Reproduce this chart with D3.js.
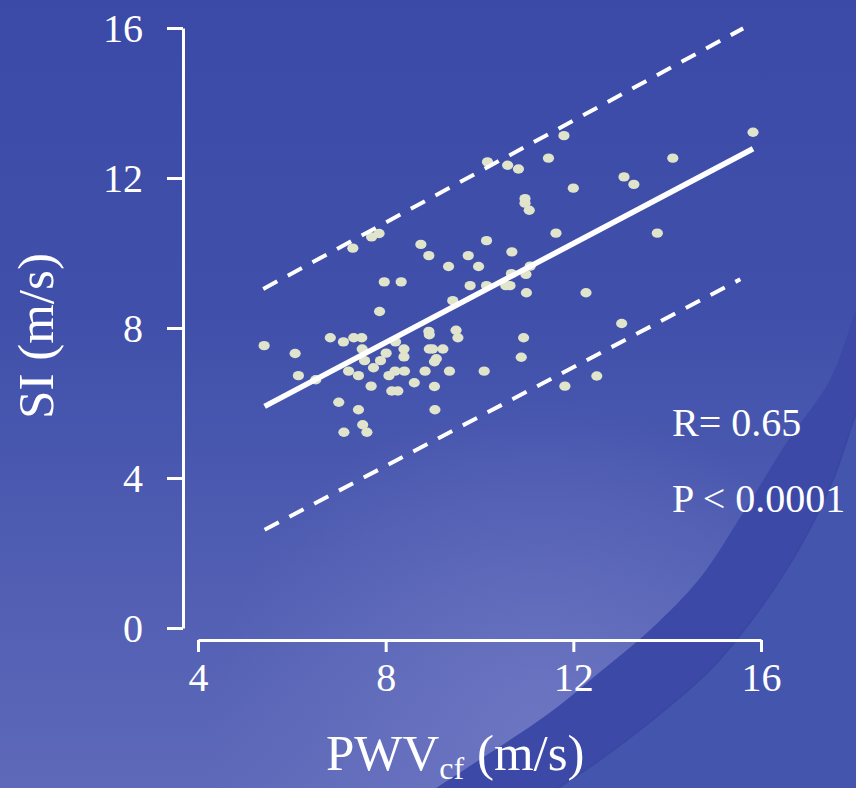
<!DOCTYPE html>
<html>

<head>
  <meta charset="utf-8">
  <title>SI vs PWVcf</title>
  <style>
    body { margin: 0; background: #3c4aa8; }
    svg { display: block; }
    text { font-family: "Liberation Serif", "DejaVu Serif", serif; fill: #fff; }
  </style>
</head>

<body>
  <svg width="856" height="788"></svg>
  <script src="https://d3js.org/d3.v7.min.js"></script>
  <script>
    // PWVcf (m/s)
    var pwv = [5.41, 6.07, 6.14, 6.51, 6.82, 7.10, 7.32, 7.49, 7.50, 7.55,
      7.21, 7.42, 7.74, 7.89, 8.01, 8.21, 8.39, 8.39, 8.07, 8.20,
      8.40, 7.69, 8.13, 8.26, 8.61, 7.00, 7.42, 7.51, 7.11, 7.60,
      7.87, 7.97, 8.33, 7.30, 7.70, 7.86, 8.75, 8.92, 8.92, 8.93,
      8.84, 8.93, 9.00, 9.22, 9.08, 9.04, 9.04, 9.05, 9.36, 9.50,
      9.54, 9.43, 9.34, 9.76, 9.80, 9.98, 10.15, 10.17, 10.15, 10.10,
      10.69, 10.56, 10.65, 10.68, 10.99, 11.08, 11.00, 10.94, 10.89, 10.60,
      10.83, 10.97, 10.97, 11.06, 11.47, 11.80, 11.63, 12.00, 12.27, 11.82,
      12.50, 13.03, 13.08, 13.29, 13.79, 14.12, 15.83];
    // SI (m/s)
    var si = [7.53, 7.32, 6.73, 6.62, 7.74, 7.63, 7.74, 7.74, 7.44, 7.13,
      6.85, 6.73, 6.94, 7.13, 7.33, 7.63, 7.44, 7.23, 6.73, 6.85,
      6.85, 6.45, 6.32, 6.32, 6.54, 6.02, 5.82, 5.42, 5.22, 5.22,
      8.44, 9.23, 9.23, 10.13, 10.43, 10.52, 10.23, 9.93, 7.91, 7.82,
      6.85, 7.44, 7.44, 7.44, 7.18, 7.10, 6.44, 5.82, 6.85, 7.94,
      7.74, 8.73, 9.64, 9.93, 9.13, 9.64, 10.33, 12.43, 9.13, 6.85,
      10.03, 9.13, 9.13, 9.45, 9.43, 9.65, 8.94, 7.74, 7.22, 12.34,
      12.24, 11.45, 11.33, 11.14, 12.53, 13.13, 10.53, 11.73, 8.94, 6.45,
      6.72, 8.12, 12.03, 11.83, 10.53, 12.53, 13.22];

    // regression line and 95% band end points (x, y)
    var fitX = [5.42, 15.83], fitY = [5.91, 12.78];
    var upperX = [5.39, 15.62], upperY = [9.04, 15.99];
    var lowerX = [5.42, 15.56], lowerY = [2.62, 9.30];

    var xTicks = [4, 8, 12, 16];
    var yTicks = [0, 4, 8, 12, 16];
    var statLines = ["R= 0.65", "P < 0.0001"];

    var svg = d3.select("svg");
    var defs = svg.append("defs");

    // background
    var bg = defs.append("linearGradient").attr("id", "bg")
      .attr("x1", 0).attr("y1", 0).attr("x2", 0).attr("y2", 1);
    bg.append("stop").attr("offset", "0").attr("stop-color", "#3b4aa7");
    bg.append("stop").attr("offset", "0.4").attr("stop-color", "#4050aa");
    bg.append("stop").attr("offset", "1").attr("stop-color", "#5e69b9");
    var glow = defs.append("radialGradient").attr("id", "glow")
      .attr("gradientUnits", "userSpaceOnUse")
      .attr("cx", 540).attr("cy", 730).attr("r", 330);
    glow.append("stop").attr("offset", "0").attr("stop-color", "#7079c4").attr("stop-opacity", 0.8);
    glow.append("stop").attr("offset", "1").attr("stop-color", "#7079c4").attr("stop-opacity", 0);

    svg.append("rect").attr("width", 856).attr("height", 788).attr("fill", "url(#bg)");
    svg.append("rect").attr("width", 856).attr("height", 788).attr("fill", "url(#glow)");

    // curved band in the corner
    var curve = d3.line().curve(d3.curveCatmullRom);
    var inner = [[870, 280], [856, 311], [830, 380], [787, 442], [743, 513], [700, 578], [650, 630], [600, 672], [548, 714], [470, 766], [430, 792]];
    var outer = [[870, 375], [856, 413], [833, 480], [800, 547], [757, 613], [710, 670], [650, 722], [600, 760], [552, 792]];
    svg.append("path")
      .attr("d", curve(inner) + "L870,800Z")
      .attr("fill", "#3c49a6");
    svg.append("path")
      .attr("d", curve(outer) + "L870,800Z")
      .attr("fill", "#4455ae");
    svg.append("path")
      .attr("d", curve(outer))
      .attr("fill", "none")
      .attr("stroke", "#3a47a2")
      .attr("stroke-width", 1.5);

    var xScale = d3.scaleLinear().domain([4, 16]).range([198, 761]);
    var yScale = d3.scaleLinear().domain([0, 16]).range([628, 28]);

    // axes
    var yAxis = svg.append("g")
      .attr("transform", "translate(183,0)")
      .call(d3.axisLeft(yScale).tickValues(yTicks).tickSize(16).tickSizeOuter(0).tickPadding(24));
    var xAxis = svg.append("g")
      .attr("transform", "translate(0,640)")
      .call(d3.axisBottom(xScale).tickValues(xTicks).tickSize(12).tickSizeOuter(0).tickPadding(10));
    [xAxis, yAxis].forEach(function (ax) {
      ax.select(".domain").attr("stroke", "#fff").attr("stroke-width", 3);
      ax.selectAll(".tick line").attr("stroke", "#fff").attr("stroke-width", 3);
      ax.selectAll(".tick text")
        .attr("fill", "#fff")
        .style("font-family", '"Liberation Serif", serif')
        .style("font-size", "40px");
    });
    yAxis.selectAll(".tick text").attr("dy", "0.34em");
    xAxis.selectAll(".tick text").attr("dy", "0.72em");

    // points
    svg.append("g").selectAll("ellipse")
      .data(pwv.map(function (v, i) { return [v, si[i]]; }))
      .enter().append("ellipse")
      .attr("cx", d => xScale(d[0]))
      .attr("cy", d => yScale(d[1]))
      .attr("rx", 5.6)
      .attr("ry", 4.7)
      .attr("fill", "#dfe4cb");

    // fit line and dashed band
    var seg = d3.line().x(d => xScale(d[0])).y(d => yScale(d[1]));
    function pts(xs, ys) { return xs.map(function (v, i) { return [v, ys[i]]; }); }
    svg.append("path").attr("d", seg(pts(upperX, upperY)))
      .attr("stroke", "#fff").attr("stroke-width", 4).attr("stroke-dasharray", "16,12").attr("fill", "none");
    svg.append("path").attr("d", seg(pts(lowerX, lowerY)))
      .attr("stroke", "#fff").attr("stroke-width", 4).attr("stroke-dasharray", "16,12").attr("fill", "none");
    svg.append("path").attr("d", seg(pts(fitX, fitY)))
      .attr("stroke", "#fff").attr("stroke-width", 5.5).attr("fill", "none");

    // stats
    svg.selectAll(".stat").data(statLines).enter().append("text")
      .attr("class", "stat")
      .attr("x", 672)
      .attr("y", (d, i) => 436 + i * 76)
      .style("font-size", "40px")
      .text(d => d);

    // axis titles
    svg.append("text")
      .attr("transform", "translate(53,336) rotate(-90)")
      .attr("text-anchor", "middle")
      .style("font-size", "51px")
      .text("SI (m/s)");
    var xt = svg.append("text").attr("x", 326).attr("y", 770).style("font-size", "51px");
    xt.append("tspan").text("PWV");
    xt.append("tspan").attr("dy", 9).style("font-size", "32px").text("cf");
    xt.append("tspan").attr("dy", -9).text(" (m/s)");
  </script>

</body>

</html>
